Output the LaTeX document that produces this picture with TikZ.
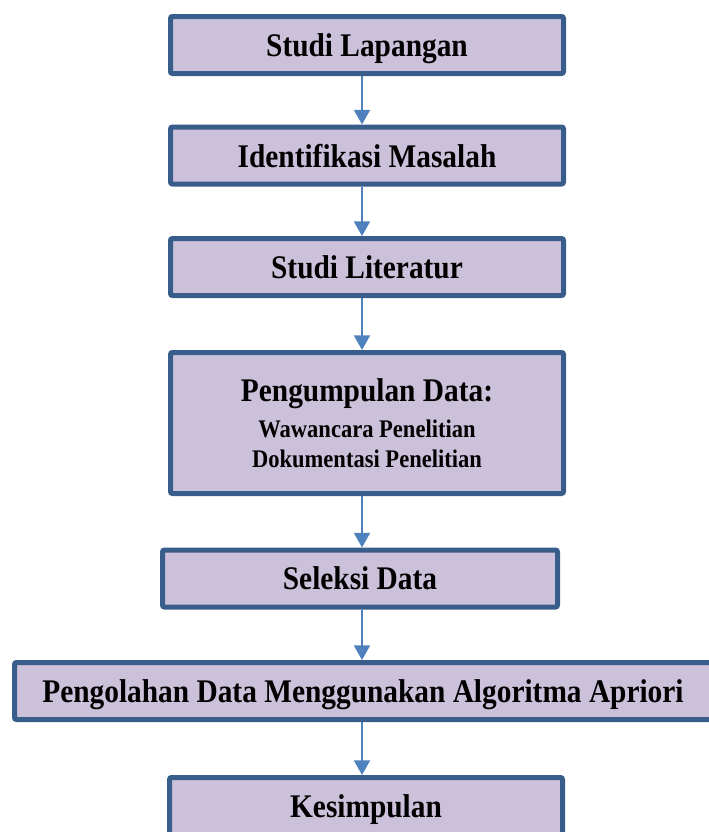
\documentclass[tikz,border=0pt]{standalone}
\usepackage{fontspec}
\setmainfont{Liberation Serif}[FakeStretch=0.89]
\usetikzlibrary{arrows.meta}
\definecolor{boxfill}{HTML}{CCC1DA}
\definecolor{boxline}{HTML}{385D8A}
\definecolor{arrowblue}{HTML}{4F81BD}

\begin{document}
\begin{tikzpicture}[x=0.75pt, y=-0.75pt,
  stage/.style = {shape=rectangle, rounded corners=1.5pt,
    draw=boxline, line width=3.75pt, fill=boxfill, align=center,
    minimum width=294.75pt, minimum height=42.75pt, inner sep=0pt,
    text depth=0pt, font=\bfseries\fontsize{24.75}{30}\selectfont},
  flow/.style = {draw=arrowblue, line width=1.5pt,
    -{Triangle[length=11pt, width=12pt]}}]
  \useasboundingbox (0,0) rectangle (708,832);
  \coordinate (spine) at (362,0);

  \node[stage] (lapangan)  at (367,45)    {Studi Lapangan};
  \node[stage] (masalah)   at (367,155.5) {Identifikasi Masalah};
  \node[stage] (literatur) at (367,267)   {Studi Literatur};
  \node[stage, minimum height=105.75pt] (pengumpulan) at (367,423)
    {Pengumpulan Data:\\[-3pt]
     {\fontsize{19}{22.5}\selectfont Wawancara Penelitian}\\[-7.5pt]
     {\fontsize{19}{22.5}\selectfont Dokumentasi Penelitian}};
  \node[stage, minimum width=296.25pt] (seleksi) at (360,578.5) {Seleksi Data};
  \node[stage, minimum width=522.75pt] (pengolahan) at (363,691)
    {Pengolahan Data Menggunakan Algoritma Apriori};
  \node[stage] (kesimpulan) at (366,806) {Kesimpulan};

  \foreach \a/\b in {lapangan/masalah, masalah/literatur,
    literatur/pengumpulan, pengumpulan/seleksi,
    seleksi/pengolahan, pengolahan/kesimpulan}
    \draw[flow] (\a.south -| spine) -- (\b.north -| spine);
\end{tikzpicture}
\end{document}
